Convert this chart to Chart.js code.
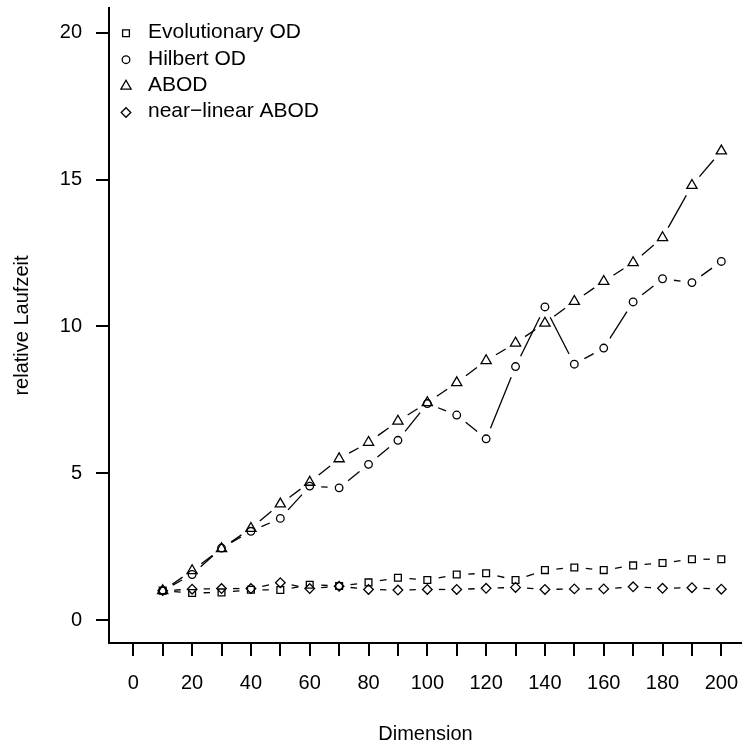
<!DOCTYPE html>
<html>
<head>
<meta charset="utf-8">
<script src="https://cdn.jsdelivr.net/npm/chart.js@4.4.1/dist/chart.umd.min.js"></script>
<style>
  html, body { margin: 0; padding: 0; background: #fff; overflow: hidden; }
</style>
</head>
<body>
<canvas id="myChart" width="742" height="746"></canvas>
<script>
// data
const dims = [10, 20, 30, 40, 50, 60, 70, 80, 90, 100, 110, 120, 130, 140, 150, 160, 170, 180, 190, 200];
const evolutionary = [1.0, 0.92, 0.94, 1.03, 1.02, 1.2, 1.16, 1.28, 1.44, 1.36, 1.55, 1.59, 1.36, 1.7, 1.79, 1.7, 1.86, 1.94, 2.07, 2.07];
const hilbert = [1.0, 1.55, 2.45, 3.02, 3.46, 4.56, 4.5, 5.3, 6.12, 7.37, 6.98, 6.17, 8.63, 10.66, 8.71, 9.26, 10.83, 11.62, 11.49, 12.21];
const abod = [1.0, 1.68, 2.43, 3.12, 3.95, 4.69, 5.49, 6.05, 6.77, 7.4, 8.08, 8.83, 9.43, 10.11, 10.85, 11.53, 12.17, 13.02, 14.8, 15.97];
const near_linear = [1.0, 1.05, 1.07, 1.07, 1.27, 1.07, 1.15, 1.04, 1.02, 1.04, 1.04, 1.08, 1.11, 1.04, 1.06, 1.06, 1.13, 1.08, 1.1, 1.05];
const series_names = ['Evolutionary OD', 'Hilbert OD', 'ABOD', 'near\u2212linear ABOD'];
const x_ticks = [0, 10, 20, 30, 40, 50, 60, 70, 80, 90, 100, 110, 120, 130, 140, 150, 160, 170, 180, 190, 200];
const y_ticks = [0, 5, 10, 15, 20];

const FONT = { family: '"Liberation Sans", Arial, Helvetica, sans-serif', size: 20 };
const LEGEND_SIZE = 21;
const GAP = 11.5; // gap around each point, like R type="b"

const toPoints = (vals) => vals.map((v, i) => ({ x: dims[i], y: v }));

const make_ds = (label, vals, style, r) => ({
  label: label,
  data: toPoints(vals),
  showLine: false,
  pointStyle: style,
  pointRadius: r,
  pointBorderWidth: 1.3,
  pointBorderColor: '#000',
  pointBackgroundColor: 'rgba(0,0,0,0)',
  borderColor: '#000',
});

// lines between points with a gap at each end (R type="b")
const gapLines = {
  id: 'gapLines',
  beforeDatasetsDraw(chart) {
    const ctx = chart.ctx;
    ctx.save();
    ctx.strokeStyle = '#000';
    ctx.lineWidth = 1.3;
    chart.data.datasets.forEach((ds, i) => {
      const pts = chart.getDatasetMeta(i).data;
      for (let k = 1; k < pts.length; k++) {
        const a = pts[k - 1], b = pts[k];
        const dx = b.x - a.x, dy = b.y - a.y;
        const len = Math.hypot(dx, dy);
        if (len <= 2 * GAP) continue;
        const ux = dx / len, uy = dy / len;
        ctx.beginPath();
        ctx.moveTo(a.x + ux * GAP, a.y + uy * GAP);
        ctx.lineTo(b.x - ux * GAP, b.y - uy * GAP);
        ctx.stroke();
      }
    });
    ctx.restore();
  }
};

// legend in the top left corner, no box
const plainLegend = {
  id: 'plainLegend',
  afterDraw(chart) {
    const ctx = chart.ctx;
    ctx.save();
    ctx.font = LEGEND_SIZE + 'px ' + FONT.family;
    ctx.textAlign = 'left';
    ctx.textBaseline = 'middle';
    chart.data.datasets.forEach((ds, i) => {
      const y = 32.5 + i * 26.4;
      ctx.strokeStyle = '#000';
      ctx.fillStyle = 'rgba(0,0,0,0)';
      ctx.lineWidth = 1.3;
      Chart.helpers.drawPoint(ctx, { pointStyle: ds.pointStyle, radius: ds.pointRadius, rotation: 0, borderWidth: 1.3 }, 126, y + 0.8);
      ctx.fillStyle = '#000';
      ctx.fillText(ds.label, 148, y);
    });
    ctx.restore();
  }
};

const ctx = document.getElementById('myChart').getContext('2d');
const myChart = new Chart(ctx, {
  type: 'line',
  data: {
    datasets: [
      make_ds(series_names[0], evolutionary, 'rect', 4.8),
      make_ds(series_names[1], hilbert, 'circle', 3.8),
      make_ds(series_names[2], abod, 'triangle', 5.9),
      make_ds(series_names[3], near_linear, 'rectRot', 4.8),
    ],
  },
  options: {
    responsive: false,
    animation: false,
    events: [],
    layout: { autoPadding: false, padding: { top: 8, right: 0, bottom: 0, left: 0 } },
    plugins: {
      legend: { display: false },
      tooltip: { enabled: false },
    },
    scales: {
      x: {
        type: 'linear',
        position: 'bottom',
        min: -8.27,
        max: 207.03,
        afterBuildTicks: (s) => { s.ticks = x_ticks.map((v) => ({ value: v })); },
        afterFit: (s) => { s.height = 103; s.paddingLeft = 0; s.paddingRight = 0; },
        border: { display: true, color: '#000', width: 2 },
        grid: { display: true, drawOnChartArea: false, drawTicks: true, tickLength: 13, color: '#000', lineWidth: 2 },
        ticks: {
          autoSkip: false,
          maxRotation: 0,
          padding: 15,
          color: '#000',
          font: FONT,
          callback: (v) => (v % 20 === 0 ? String(v) : ''),
        },
        title: { display: true, text: 'Dimension', color: '#000', font: FONT, padding: { top: 0, bottom: 0 } },
      },
      y: {
        type: 'linear',
        position: 'left',
        min: -0.783,
        max: 20.84,
        afterBuildTicks: (s) => { s.ticks = y_ticks.map((v) => ({ value: v })); },
        afterFit: (s) => { s.width = 109; s.paddingTop = 0; s.paddingBottom = 0; },
        border: { display: true, color: '#000', width: 2 },
        grid: { display: true, drawOnChartArea: false, drawTicks: true, tickLength: 13, color: '#000', lineWidth: 2 },
        ticks: { padding: 14, color: '#000', font: FONT },
        title: { display: true, text: 'relative Laufzeit', color: '#000', font: FONT, padding: { top: 10.5, bottom: 0 } },
      },
    },
  },
  plugins: [gapLines, plainLegend],
});
</script>
</body>
</html>
